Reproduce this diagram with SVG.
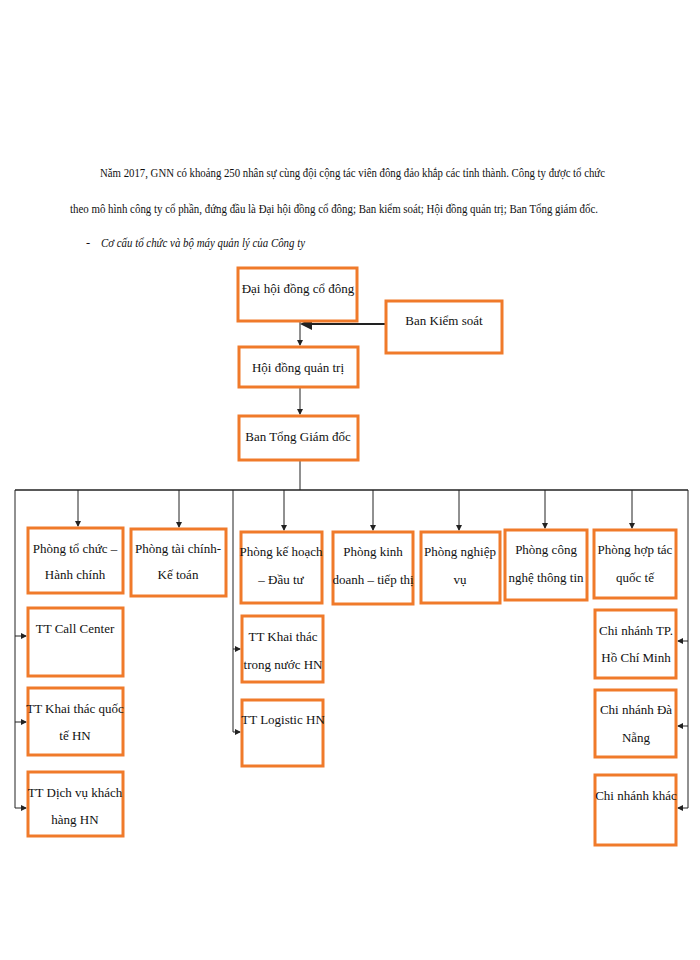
<svg xmlns="http://www.w3.org/2000/svg" width="700" height="960" viewBox="0 0 700 960">
<style>
.b{fill:#fff;stroke:#f07a2a;stroke-width:3}
.t{font-family:"Liberation Serif",serif;font-size:13px;fill:#111;text-anchor:middle}
.p{font-family:"Liberation Serif",serif;font-size:12.5px;fill:#111}
.l{stroke:#222;stroke-width:1;fill:none}
</style>
<defs><marker id="a" markerWidth="6" markerHeight="6" refX="5" refY="3" orient="auto"><path d="M0,0L6,3L0,6z" fill="#222"/></marker></defs>
<rect width="700" height="960" fill="#fff"/>
<text class="p" x="100" y="177" textLength="505" lengthAdjust="spacingAndGlyphs">Năm 2017, GNN có khoảng 250 nhân sự cùng đội cộng tác viên đông đảo khắp các tỉnh thành. Công ty được tổ chức</text>
<text class="p" x="70" y="213" textLength="528" lengthAdjust="spacingAndGlyphs">theo mô hình công ty cổ phần, đứng đầu là Đại hội đồng cổ đông; Ban kiểm soát; Hội đồng quản trị; Ban Tổng giám đốc.</text>
<text class="p" x="86" y="247">-</text>
<text class="p" x="101" y="247" font-style="italic" textLength="204" lengthAdjust="spacingAndGlyphs">Cơ cấu tổ chức và bộ máy quản lý của Công ty</text>
<g id="connectors">
<path class="l" d="M300,321V345" marker-end="url(#a)"/>
<path d="M386,324H302" stroke="#222" stroke-width="2" marker-end="url(#a)"/>
<path class="l" d="M300,387V414" marker-end="url(#a)"/>
<path class="l" d="M300,460V490"/>
<path d="M15,490H688" stroke="#222" stroke-width="1.5"/>
<path class="l" d="M78,490V526" marker-end="url(#a)"/>
<path class="l" d="M179,490V527" marker-end="url(#a)"/>
<path class="l" d="M284,490V530" marker-end="url(#a)"/>
<path class="l" d="M373,490V530" marker-end="url(#a)"/>
<path class="l" d="M459,490V530" marker-end="url(#a)"/>
<path class="l" d="M545,490V528" marker-end="url(#a)"/>
<path class="l" d="M632,490V528" marker-end="url(#a)"/>
<path class="l" d="M15,490V808"/>
<path class="l" d="M15,636H26" marker-end="url(#a)"/>
<path class="l" d="M15,722H26" marker-end="url(#a)"/>
<path class="l" d="M15,808H26" marker-end="url(#a)"/>
<path class="l" d="M233,490V732"/>
<path class="l" d="M233,649H240" marker-end="url(#a)"/>
<path class="l" d="M233,732H240" marker-end="url(#a)"/>
<path class="l" d="M688,490V808"/>
<path class="l" d="M688,641H678" marker-end="url(#a)"/>
<path class="l" d="M688,726H678" marker-end="url(#a)"/>
<path class="l" d="M688,808H678" marker-end="url(#a)"/>
</g>
<g id="dhcd"><rect class="b" x="238" y="268" width="119" height="53"/><text class="t" x="298" y="293">Đại hội đồng cổ đông</text></g>
<g id="bks"><rect class="b" x="386" y="301" width="116" height="52"/><text class="t" x="444" y="325">Ban Kiểm soát</text></g>
<g id="hdqt"><rect class="b" x="239" y="347" width="119" height="40"/><text class="t" x="298" y="372">Hội đồng quản trị</text></g>
<g id="btgd"><rect class="b" x="239" y="416" width="119" height="44"/><text class="t" x="298" y="441">Ban Tổng Giám đốc</text></g>
<g id="p1"><rect class="b" x="28" y="528" width="95" height="65"/><text class="t" x="75" y="553">Phòng tổ chức –</text><text class="t" x="75" y="579">Hành chính</text></g>
<g id="p2"><rect class="b" x="131" y="529" width="95" height="67"/><text class="t" x="178" y="553">Phòng tài chính-</text><text class="t" x="178" y="579">Kế toán</text></g>
<g id="p3"><rect class="b" x="241" y="532" width="81" height="71"/><text class="t" x="281" y="556">Phòng kế hoạch</text><text class="t" x="281" y="584">– Đầu tư</text></g>
<g id="p4"><rect class="b" x="333" y="532" width="80" height="72"/><text class="t" x="373" y="556">Phòng kinh</text><text class="t" x="373" y="584">doanh – tiếp thị</text></g>
<g id="p5"><rect class="b" x="421" y="532" width="79" height="71"/><text class="t" x="460" y="556">Phòng nghiệp</text><text class="t" x="460" y="584">vụ</text></g>
<g id="p6"><rect class="b" x="505" y="530" width="82" height="70"/><text class="t" x="546" y="554">Phòng công</text><text class="t" x="546" y="582">nghệ thông tin</text></g>
<g id="p7"><rect class="b" x="594" y="530" width="82" height="68"/><text class="t" x="635" y="554">Phòng hợp tác</text><text class="t" x="635" y="582">quốc tế</text></g>
<g id="tt1"><rect class="b" x="28" y="608" width="95" height="68"/><text class="t" x="75" y="633">TT Call Center</text></g>
<g id="tt2"><rect class="b" x="28" y="688" width="95" height="67"/><text class="t" x="75" y="713">TT Khai thác quốc</text><text class="t" x="75" y="740">tế HN</text></g>
<g id="tt3"><rect class="b" x="28" y="772" width="95" height="64"/><text class="t" x="75" y="797">TT Dịch vụ khách</text><text class="t" x="75" y="824">hàng HN</text></g>
<g id="tt4"><rect class="b" x="242" y="616" width="81" height="66"/><text class="t" x="283" y="641">TT Khai thác</text><text class="t" x="283" y="669">trong nước HN</text></g>
<g id="tt5"><rect class="b" x="242" y="700" width="81" height="66"/><text class="t" x="283" y="724">TT Logistic HN</text></g>
<g id="cn1"><rect class="b" x="595" y="610" width="81" height="68"/><text class="t" x="636" y="635">Chi nhánh TP.</text><text class="t" x="636" y="662">Hồ Chí Minh</text></g>
<g id="cn2"><rect class="b" x="595" y="690" width="81" height="67"/><text class="t" x="636" y="714">Chi nhánh Đà</text><text class="t" x="636" y="742">Nẵng</text></g>
<g id="cn3"><rect class="b" x="595" y="775" width="81" height="70"/><text class="t" x="636" y="800">Chi nhánh khác</text></g>
</svg>
